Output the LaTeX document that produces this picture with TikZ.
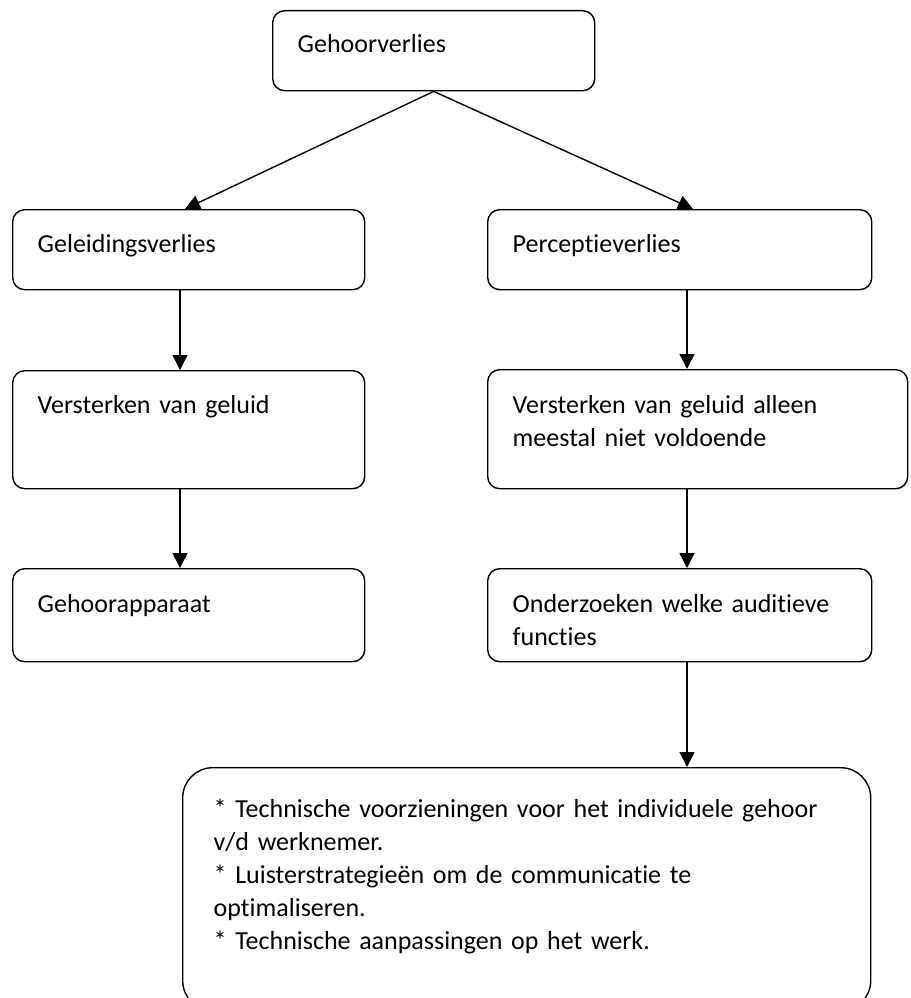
\documentclass[tikz,border=0pt]{standalone}
\usepackage{fontspec}
\setmainfont{Carlito}[Ligatures=NoCommon]
\usepackage{tikz}
\usetikzlibrary{arrows.meta}

\tikzset{
  blok/.style={rectangle, draw, rounded corners=12pt, line width=1.4pt, anchor=north west,
    inner ysep=0pt, inner xsep=25pt, align=left, font=\fontsize{26}{33}\selectfont},
  pijl/.style={line width=1.4pt, -{Triangle[length=15pt,width=15pt]}}
}

\begin{document}
\begin{tikzpicture}[x=1pt,y=-1pt]
\useasboundingbox (0,0) rectangle (910,998);
\coordinate (links) at (180,0);
\coordinate (rechts) at (687,0);

\node[blok, text width=272, text height=42, text depth=38] (verlies) at (272,10) {Gehoorverlies};

\node[blok, text width=302, text height=43, text depth=37] (geleiding) at (12,209) {Geleidingsverlies};
\node[blok, text width=334, text height=43, text depth=37] (perceptie) at (487,209) {Perceptieverlies};

\node[blok, text width=302, text height=43, text depth=75] (versterkL) at (12,370) {Versterken van geluid};
\node[blok, text width=370, text height=44, text depth=75] (versterkR) at (487,369) {Versterken van geluid alleen\\meestal niet voldoende};

\node[blok, text width=302, text height=44, text depth=49] (apparaat) at (12,568) {Gehoorapparaat};
\node[blok, text width=334, text height=44, text depth=49] (onderzoek) at (487,568) {Onderzoeken welke auditieve\\functies};

\node[blok, rounded corners=30pt, inner xsep=31pt, text width=626, text height=50, text depth=193] (maatregel) at (182,767) {%
* Technische voorzieningen voor het individuele gehoor\\
v/d werknemer.\\{}%
* Luisterstrategieën om de communicatie te\\
optimaliseren.\\{}%
* Technische aanpassingen op het werk.};

% pijlen
\draw[pijl] (verlies.south) -- ([xshift=5pt]geleiding.north -| links);
\draw[pijl] (verlies.south) -- ([xshift=6pt]perceptie.north -| rechts);
\draw[pijl] (geleiding.south -| links) -- (versterkL.north -| links);
\draw[pijl] (versterkL.south -| links) -- (apparaat.north -| links);
\draw[pijl] (perceptie.south -| rechts) -- (versterkR.north -| rechts);
\draw[pijl] (versterkR.south -| rechts) -- (onderzoek.north -| rechts);
\draw[pijl] (onderzoek.south -| rechts) -- (maatregel.north -| rechts);
\end{tikzpicture}
\end{document}
